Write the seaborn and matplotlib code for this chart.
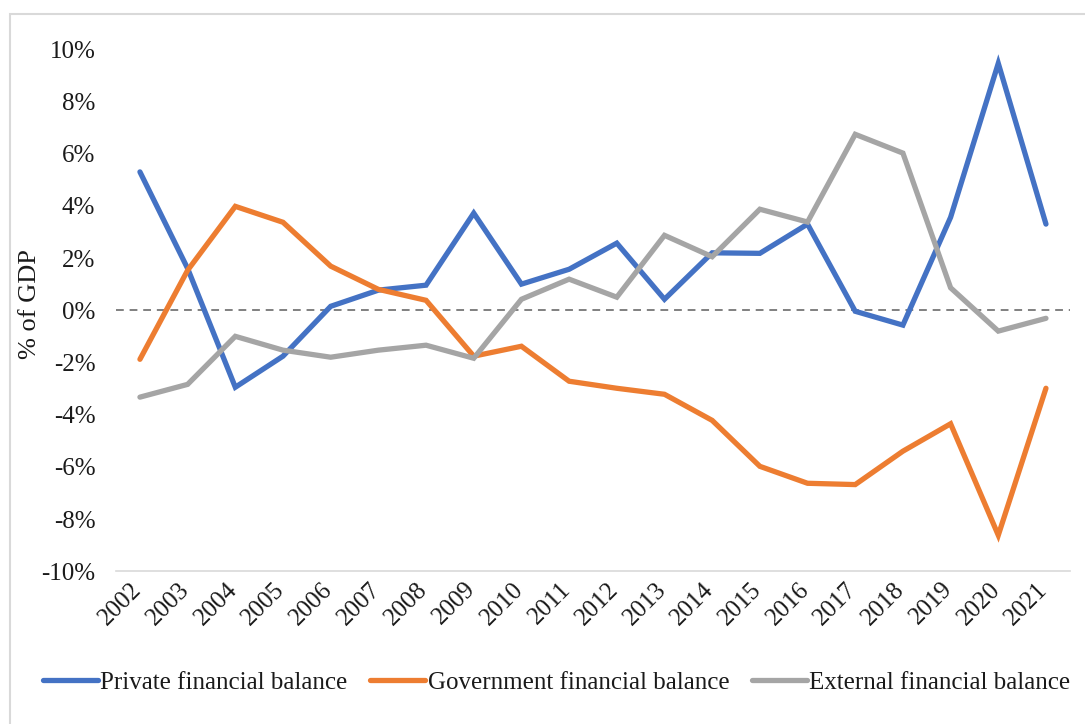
import numpy as np
import pandas as pd
import seaborn as sns
import matplotlib.pyplot as plt
from matplotlib.patches import Rectangle
from matplotlib.transforms import ScaledTranslation

# Sectoral financial balances, % of GDP
years = list(range(2002, 2022))
private_balance = [5.3, 1.6, -2.95, -1.76, 0.15, 0.77, 0.96, 3.72, 1.0, 1.57,
                   2.57, 0.42, 2.2, 2.18, 3.3, -0.04, -0.57, 3.56, 9.46, 3.3]
government_balance = [-1.88, 1.53, 3.98, 3.37, 1.69, 0.8, 0.38, -1.76, -1.38, -2.72,
                      -2.99, -3.22, -4.22, -5.98, -6.63, -6.68, -5.4, -4.35, -8.62, -2.99]
external_balance = [-3.33, -2.84, -1.0, -1.53, -1.8, -1.53, -1.34, -1.84, 0.42, 1.19,
                    0.5, 2.87, 2.05, 3.87, 3.38, 6.74, 6.02, 0.86, -0.8, -0.31]

series_names = ["Private financial balance", "Government financial balance",
                "External financial balance"]
colors = ["#4472C4", "#ED7D31", "#A5A5A5"]

df = pd.DataFrame({
    "year": years * 3,
    "value": private_balance + government_balance + external_balance,
    "series": np.repeat(series_names, len(years)),
})

sns.set_style("white")
plt.rcParams['font.family'] = ['Liberation Serif', 'DejaVu Serif']

fig = plt.figure(figsize=(10.85, 7.24), dpi=100)
ax = fig.add_axes([0.107, 0.211, 0.879, 0.721])

# Zero reference line
ax.axhline(0, color="#808080", lw=1.4, ls=(0, (4, 3)), zorder=1)

sns.lineplot(data=df, x="year", y="value", hue="series", palette=colors,
             hue_order=series_names, lw=3.8, ax=ax, legend=False, zorder=3,
             solid_capstyle="round", solid_joinstyle="miter")

ax.set_xlim(2001.5, 2021.5)
ax.set_ylim(-10, 10)
ax.set_yticks(range(-10, 11, 2))
ax.set_yticklabels([f"{v}%" for v in range(-10, 11, 2)], fontsize=18, color="#1a1a1a")
ax.set_xticks(years)
ax.set_xticklabels([str(y) for y in years], rotation=45, ha="right",
                   fontsize=18, color="#1a1a1a")
ax.tick_params(axis="y", length=0, pad=15)
ax.tick_params(axis="x", length=0, pad=5)

# nudge the rotated year labels a little to the right, as in the original
shift = ScaledTranslation(6 / 100, 0, fig.dpi_scale_trans)
for lbl in ax.get_xticklabels():
    lbl.set_transform(lbl.get_transform() + shift)

for side in ["top", "right", "left"]:
    ax.spines[side].set_visible(False)
ax.spines["bottom"].set_color("#D9D9D9")
ax.spines["bottom"].set_linewidth(1.2)

ax.set_xlabel("")
ax.set_ylabel("")
fig.text(0.028, 0.58, "% of GDP", rotation=90, fontsize=19, color="#1a1a1a",
         ha="center", va="center")

# Legend at the bottom
handles = [plt.Line2D([], [], color=c, lw=3.8, solid_capstyle="round") for c in colors]
fig.legend(handles, series_names, loc="center", bbox_to_anchor=(0.513, 0.057),
           ncol=3, frameon=False, fontsize=18, handlelength=2.2, handletextpad=0.1,
           columnspacing=0.9, labelcolor="#1a1a1a")

# Light chart border (only left and top edges are visible in the crop)
fig.patches.append(Rectangle((0.0095, -0.1), 1.2, 1.0806, transform=fig.transFigure,
                             fill=False, edgecolor="#D9D9D9", lw=1.5))

fig.savefig("out.png", dpi=100)
plt.close(fig)
